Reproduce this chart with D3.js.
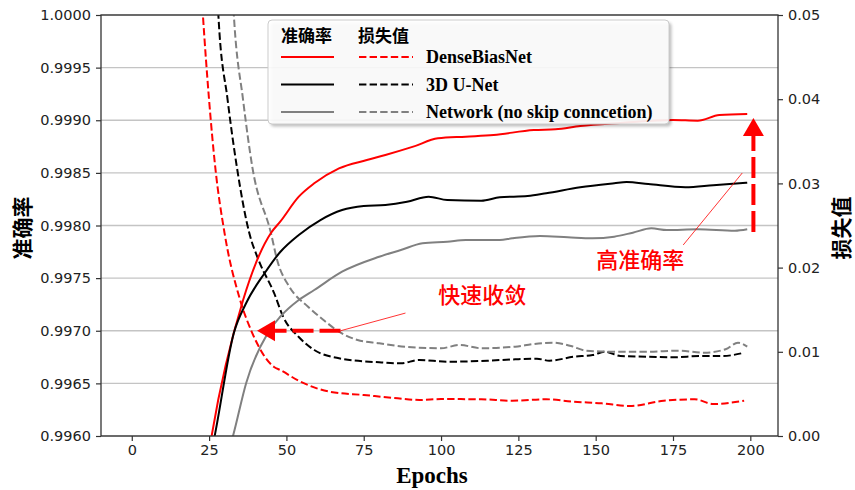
<!DOCTYPE html>
<html>
<head>
<meta charset="utf-8">
<script src="https://cdn.jsdelivr.net/npm/d3@7/dist/d3.min.js"></script>
<style>
  html, body { margin: 0; padding: 0; background: #fff; }
  svg { display: block; }
  .tick text { font-family: "DejaVu Sans", sans-serif; font-size: 14.5px; fill: #222; }
  .tick line { stroke: #333; stroke-width: 1.2; }
</style>
</head>
<body>
<svg id="chart" width="855" height="490"></svg>
<script>
// ---- data: [epoch, value] ----
// accuracy (left axis)
const accDenseBiasNet = [[25,0.99585],[26,0.99603],[36,0.997292],[45,0.997929],[48,0.998036],[54,0.998274],
  [59,0.998401],[67,0.998543],[76,0.998622],[82,0.99867],[91,0.998749],[99,0.998828],[108,0.998844],
  [117,0.99886],[130,0.998907],[137,0.998914],[145,0.998945],[158,0.998974],[175,0.999002],[183,0.998996],
  [190,0.99905],[199,0.999059]];
const accUNet = [[26,0.99588],[27,0.99603],[33,0.996979],[37,0.997264],[43,0.997549],[48,0.997748],[54,0.99791],
  [61,0.998052],[68,0.998147],[75,0.998185],[82,0.998195],[89,0.998226],[96,0.998274],[102,0.998242],
  [113,0.998236],[119,0.998268],[128,0.99828],[134,0.998306],[145,0.998363],[156,0.998401],[160,0.998413],
  [167,0.998394],[179,0.998363],[188,0.998382],[199,0.998407]];
const accNoSkip = [[32,0.99592],[33,0.99603],[37,0.996504],[44,0.996979],[48,0.997133],[54,0.997292],
  [59,0.997387],[68,0.997561],[80,0.997703],[87,0.997767],[94,0.997831],[102,0.997846],[108,0.997862],
  [119,0.997862],[123,0.997878],[132,0.9979],[141,0.997888],[149,0.997878],[156,0.997894],[162,0.997932],
  [168,0.997973],[173,0.997957],[183,0.997964],[195,0.99795],[199,0.997964]];
// loss (right axis)
const lossDenseBiasNet = [[22,0.0560],[23,0.0500],[25,0.0399],[27,0.0319],[30,0.0241],[35,0.0162],[39,0.0122],
  [46,0.0082],[48,0.00784],[54,0.00655],[64,0.00526],[75,0.00487],[86,0.00448],[93,0.00428],[100,0.00439],
  [113,0.00436],[123,0.00419],[134,0.00436],[143,0.00407],[152,0.00388],[161,0.00356],[172,0.00419],
  [182,0.00436],[188,0.0038],[198,0.00419]];
const lossUNet = [[27,0.0580],[28,0.0500],[31,0.0399],[34,0.0319],[38,0.0241],[41,0.0209],[46,0.017],
  [49,0.01413],[54,0.01176],[59,0.01021],[67,0.00923],[80,0.00875],[87,0.00863],[93,0.00903],[102,0.00882],
  [115,0.00894],[124,0.00911],[131,0.00918],[135,0.00894],[143,0.00942],[149,0.00962],[153,0.01001],
  [158,0.0095],[167,0.00942],[175,0.00935],[184,0.0095],[191,0.0095],[198,0.00989]];
const lossNoSkip = [[32,0.0570],[33,0.0500],[36,0.0399],[39,0.0319],[45,0.0241],[47,0.0209],[51,0.0177],
  [57,0.01536],[62,0.01378],[67,0.01239],[73,0.0114],[80,0.01101],[89,0.01057],[100,0.01042],[106,0.01081],
  [113,0.01042],[124,0.01061],[130,0.01093],[136,0.01108],[142,0.01069],[147,0.01013],[156,0.01001],
  [167,0.01001],[177,0.01013],[185,0.00989],[192,0.0103],[196,0.01108],[199,0.01061]];

const xTicks = [0, 25, 50, 75, 100, 125, 150, 175, 200];
const accTicks = [0.9960, 0.9965, 0.9970, 0.9975, 0.9980, 0.9985, 0.9990, 0.9995, 1.0000];
const lossTicks = [0.00, 0.01, 0.02, 0.03, 0.04, 0.05];

const seriesNames = ["DenseBiasNet", "3D U-Net", "Network (no skip conncetion)"];
const seriesColors = ["#ff0000", "#000000", "#808080"];

// ---- layout ----
const svg = d3.select("#chart");
const L = 101, R = 778, T = 15, B = 436;

const x = d3.scaleLinear().domain([-9.95, 208.95]).range([L, R]);
const yAcc = d3.scaleLinear().domain([0.996, 1.0]).range([B, T]);
const yLoss = d3.scaleLinear().domain([0, 0.05]).range([B, T]);

svg.append("defs").append("clipPath").attr("id", "plotClip")
  .append("rect").attr("x", L).attr("y", T).attr("width", R - L).attr("height", B - T);

// horizontal grid at accuracy ticks
svg.append("g").selectAll("line").data(accTicks).join("line")
  .attr("x1", L).attr("x2", R)
  .attr("y1", d => yAcc(d)).attr("y2", d => yAcc(d))
  .attr("stroke", "#c4c4c4").attr("stroke-width", 1.3);

// curves
const plot = svg.append("g").attr("clip-path", "url(#plotClip)");
const lineAcc = d3.line().x(d => x(d[0])).y(d => yAcc(d[1])).curve(d3.curveMonotoneX);
const lineLoss = d3.line().x(d => x(d[0])).y(d => yLoss(d[1])).curve(d3.curveMonotoneX);

const accSeries = [accDenseBiasNet, accUNet, accNoSkip];
const lossSeries = [lossDenseBiasNet, lossUNet, lossNoSkip];

lossSeries.forEach((s, i) => {
  plot.append("path").attr("d", lineLoss(s)).attr("fill", "none")
    .attr("stroke", seriesColors[i]).attr("stroke-width", 2).attr("stroke-dasharray", "7.4,3.2");
});
accSeries.forEach((s, i) => {
  plot.append("path").attr("d", lineAcc(s)).attr("fill", "none")
    .attr("stroke", seriesColors[i]).attr("stroke-width", 2);
});

// ---- annotations ----
const red = "#ff0000";
// fast convergence: arrow along 0.9970 pointing left
const fastTail = [67.5, 0.9970], fastTip = [40.5, 0.9970];
const fastLabel = [113.3, 0.99736];
const fastLink = [88.5, 0.997168];
// high accuracy: arrow pointing up
const highTail = [201, 0.997938], highTip = [201, 0.999021];
const highLabel = [164.4, 0.99769];
const highLinkA = [197.4, 0.998499], highLinkB = [178.3, 0.997815];

const ann = svg.append("g");
function arrow(tail, tip) {
  const x0 = x(tail[0]), y0 = yAcc(tail[1]), x1 = x(tip[0]), y1 = yAcc(tip[1]);
  const len = Math.hypot(x1 - x0, y1 - y0), ux = (x1 - x0) / len, uy = (y1 - y0) / len;
  const headLen = 18, headHalf = 10.5;
  const bx = x1 - ux * headLen, by = y1 - uy * headLen;
  ann.append("line").attr("x1", x0).attr("y1", y0).attr("x2", bx).attr("y2", by)
    .attr("stroke", red).attr("stroke-width", 4).attr("stroke-dasharray", "21,6");
  ann.append("path")
    .attr("d", `M${x1},${y1}L${bx - uy * headHalf},${by + ux * headHalf}L${bx + uy * headHalf},${by - ux * headHalf}Z`)
    .attr("fill", red);
}
arrow(fastTail, fastTip);
arrow(highTail, highTip);

ann.append("line")
  .attr("x1", x(fastTail[0])).attr("y1", yAcc(fastTail[1]))
  .attr("x2", x(fastLink[0])).attr("y2", yAcc(fastLink[1]))
  .attr("stroke", red).attr("stroke-width", 0.8);
ann.append("line")
  .attr("x1", x(highLinkA[0])).attr("y1", yAcc(highLinkA[1]))
  .attr("x2", x(highLinkB[0])).attr("y2", yAcc(highLinkB[1]))
  .attr("stroke", red).attr("stroke-width", 0.8);

const cjk = '"Noto Sans CJK SC", "Noto Sans CJK JP", sans-serif';
ann.append("text").attr("x", x(fastLabel[0])).attr("y", yAcc(fastLabel[1]))
  .attr("text-anchor", "middle").attr("dominant-baseline", "central")
  .attr("font-family", cjk).attr("font-size", 22).attr("font-weight", 500).attr("fill", red)
  .text("快速收敛");
ann.append("text").attr("x", x(highLabel[0])).attr("y", yAcc(highLabel[1]))
  .attr("text-anchor", "middle").attr("dominant-baseline", "central")
  .attr("font-family", cjk).attr("font-size", 22).attr("font-weight", 500).attr("fill", red)
  .text("高准确率");

// ---- axes ----
const gx = svg.append("g").attr("transform", `translate(0,${B})`)
  .call(d3.axisBottom(x).tickValues(xTicks).tickSize(5).tickSizeOuter(0).tickPadding(4));
const gl = svg.append("g").attr("transform", `translate(${L},0)`)
  .call(d3.axisLeft(yAcc).tickValues(accTicks).tickFormat(d3.format(".4f")).tickSize(5).tickSizeOuter(0).tickPadding(5));
const gr = svg.append("g").attr("transform", `translate(${R},0)`)
  .call(d3.axisRight(yLoss).tickValues(lossTicks).tickFormat(d3.format(".2f")).tickSize(5).tickSizeOuter(0).tickPadding(5));
[gx, gl, gr].forEach(g => g.select(".domain").remove());

svg.append("rect").attr("x", L).attr("y", T).attr("width", R - L).attr("height", B - T)
  .attr("fill", "none").attr("stroke", "#333").attr("stroke-width", 1.3);

// axis titles
svg.append("text").attr("x", 432).attr("y", 483).attr("text-anchor", "middle")
  .attr("font-family", '"Liberation Serif", "Times New Roman", serif').attr("font-weight", "bold")
  .attr("font-size", 23).attr("fill", "#000").text("Epochs");
svg.append("text").attr("transform", "translate(21,228) rotate(-90)")
  .attr("text-anchor", "middle").attr("dominant-baseline", "central")
  .attr("font-family", cjk).attr("font-weight", "bold").attr("font-size", 21).attr("fill", "#000")
  .text("准确率");
svg.append("text").attr("transform", "translate(840,228) rotate(-90)")
  .attr("text-anchor", "middle").attr("dominant-baseline", "central")
  .attr("font-family", cjk).attr("font-weight", "bold").attr("font-size", 21).attr("fill", "#000")
  .text("损失值");

// ---- legend ----
const filt = svg.select("defs").append("filter").attr("id", "legShadow")
  .attr("x", "-5%").attr("y", "-5%").attr("width", "115%").attr("height", "125%");
filt.append("feGaussianBlur").attr("stdDeviation", 1.5);

const lg = svg.append("g");
const lgX = 268, lgY = 20, lgW = 401, lgH = 104;
lg.append("rect").attr("x", lgX + 2.5).attr("y", lgY + 2.5).attr("width", lgW).attr("height", lgH)
  .attr("rx", 4).attr("fill", "#000").attr("opacity", 0.25).attr("filter", "url(#legShadow)");
lg.append("rect").attr("x", lgX).attr("y", lgY).attr("width", lgW).attr("height", lgH)
  .attr("rx", 4).attr("fill", "#fff").attr("fill-opacity", 0.9).attr("stroke", "#cccccc").attr("stroke-width", 1);

lg.append("text").attr("x", 281).attr("y", 42).attr("font-family", cjk).attr("font-weight", "bold")
  .attr("font-size", 17).attr("fill", "#000").text("准确率");
lg.append("text").attr("x", 358).attr("y", 42).attr("font-family", cjk).attr("font-weight", "bold")
  .attr("font-size", 17).attr("fill", "#000").text("损失值");

const rowY = [57, 84.5, 112];
seriesNames.forEach((name, i) => {
  lg.append("line").attr("x1", 281).attr("x2", 334).attr("y1", rowY[i]).attr("y2", rowY[i])
    .attr("stroke", seriesColors[i]).attr("stroke-width", 2);
  lg.append("line").attr("x1", 359).attr("x2", 413).attr("y1", rowY[i]).attr("y2", rowY[i])
    .attr("stroke", seriesColors[i]).attr("stroke-width", 2).attr("stroke-dasharray", "7.4,3.2");
  lg.append("text").attr("x", 426).attr("y", rowY[i] + 6)
    .attr("font-family", '"Liberation Serif", "Times New Roman", serif').attr("font-weight", "bold")
    .attr("font-size", 18).attr("fill", "#000").text(name);
});
</script>
</body>
</html>
